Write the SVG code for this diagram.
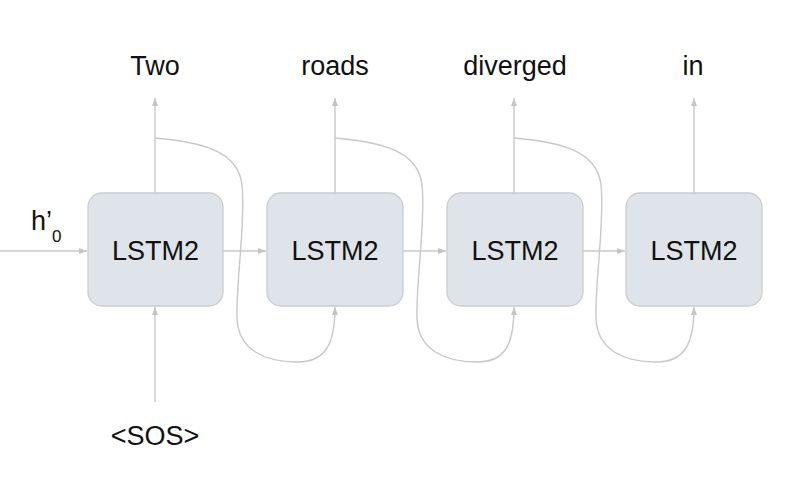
<svg xmlns="http://www.w3.org/2000/svg" width="788" height="486" viewBox="0 0 788 486">
<style>
.lbl{font-family:"Liberation Sans",Arial,sans-serif;font-size:27px;fill:#111;text-anchor:middle}
.box{fill:#dee4e9;stroke:#c9cdd1;stroke-width:1.3}
.ln{fill:none;stroke:#c8c8c8;stroke-width:1.4}
</style>
<defs>
<marker id="ah" viewBox="0 0 8 6" refX="8" refY="3" markerWidth="8" markerHeight="6" markerUnits="userSpaceOnUse" orient="auto">
<path d="M0,0 L8,3 L0,6 z" fill="#c4c4c4"/>
</marker>
</defs>
<rect width="788" height="486" fill="#fff"/>
<g id="connectors">
<line class="ln" x1="0" y1="251" x2="87" y2="251" marker-end="url(#ah)"/>
<line class="ln" x1="223" y1="251" x2="266" y2="251" marker-end="url(#ah)"/>
<line class="ln" x1="403" y1="251" x2="446" y2="251" marker-end="url(#ah)"/>
<line class="ln" x1="582" y1="251" x2="625" y2="251" marker-end="url(#ah)"/>
<line class="ln" x1="155" y1="402" x2="155" y2="307" marker-end="url(#ah)"/>
<line class="ln" x1="155" y1="193" x2="155" y2="98" marker-end="url(#ah)"/>
<line class="ln" x1="335" y1="193" x2="335" y2="98" marker-end="url(#ah)"/>
<line class="ln" x1="514" y1="193" x2="514" y2="98" marker-end="url(#ah)"/>
<line class="ln" x1="694" y1="193" x2="694" y2="98" marker-end="url(#ah)"/>
<path class="ln" d="M155,138 C200,142 238,150 242,185 C246,220 236,280 237,318 C238,350 265,362 297,362 C325,362 335,345 335,307" marker-end="url(#ah)"/>
<path class="ln" d="M335,138 C380,142 418,150 422,185 C426,220 416,280 417,318 C418,350 445,362 477,362 C505,362 514,345 514,307" marker-end="url(#ah)"/>
<path class="ln" d="M514,138 C559,142 597,150 601,185 C605,220 595,280 596,318 C597,350 624,362 656,362 C684,362 694,345 694,307" marker-end="url(#ah)"/>
</g>
<g id="node1">
<rect class="box" x="88" y="193" width="135" height="113" rx="14"/>
<text class="lbl" x="155.5" y="260">LSTM2</text>
</g>
<g id="node2">
<rect class="box" x="267" y="193" width="136" height="113" rx="14"/>
<text class="lbl" x="335" y="260">LSTM2</text>
</g>
<g id="node3">
<rect class="box" x="447" y="193" width="136" height="113" rx="14"/>
<text class="lbl" x="515" y="260">LSTM2</text>
</g>
<g id="node4">
<rect class="box" x="626" y="193" width="136" height="113" rx="14"/>
<text class="lbl" x="694" y="260">LSTM2</text>
</g>
<g id="labels">
<text class="lbl" x="155" y="75">Two</text>
<text class="lbl" x="335" y="75">roads</text>
<text class="lbl" x="515" y="75">diverged</text>
<text class="lbl" x="693" y="75">in</text>
<text class="lbl" x="155" y="445">&lt;SOS&gt;</text>
<text class="lbl" x="31" y="230" style="text-anchor:start">h’<tspan font-size="17" dy="12">0</tspan></text>
</g>
</svg>
